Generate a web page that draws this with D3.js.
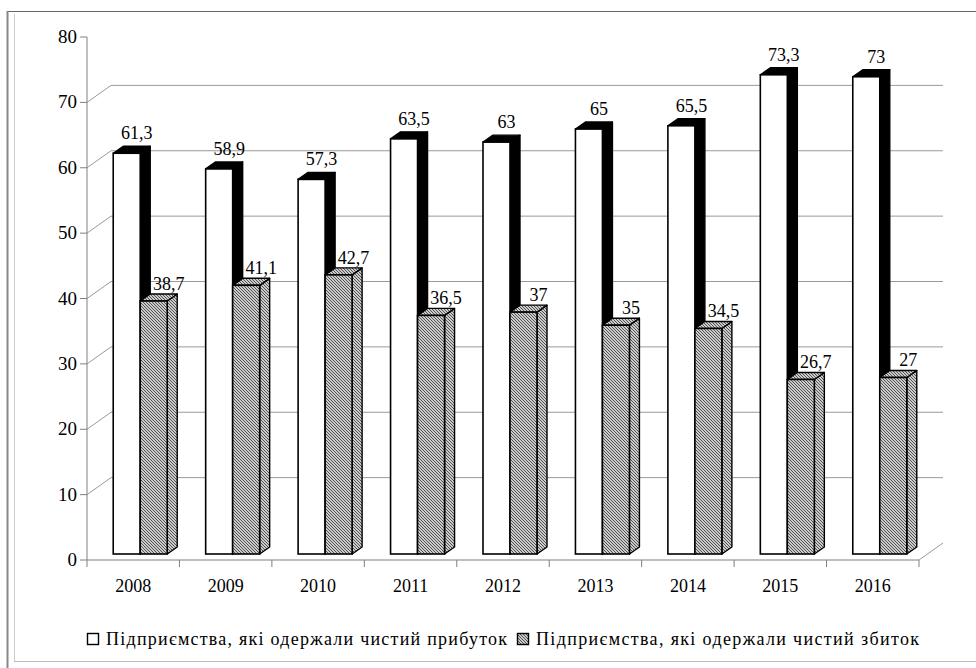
<!DOCTYPE html>
<html><head><meta charset="utf-8">
<script src="https://cdn.jsdelivr.net/npm/d3@7"></script>
<style>body{margin:0;background:#fff}svg{display:block}
svg text{font-family:"Liberation Serif","Times New Roman",serif;}</style>
</head><body><svg id="c" width="976" height="668"></svg>
<script>
const years = ["2008","2009","2010","2011","2012","2013","2014","2015","2016"];
const profit = [61.3,58.9,57.3,63.5,63,65,65.5,73.3,73];
const loss = [38.7,41.1,42.7,36.5,37,35,34.5,26.7,27];
const yTicks = [0,10,20,30,40,50,60,70,80];
const gridValues = [10,20,30,40,50,60,70];
const seriesNames = ["Підприємства, які одержали чистий прибуток","Підприємства, які одержали чистий збиток"];

const svg = d3.select("#c");
const FS = 18;
const x = d3.scaleBand().domain(years).range([87, 919]);
const y = d3.scaleLinear().domain([0, 80]).range([560, 37]);
const DX = 24, DY = -17;     // full depth of the 3D box
const OX = 7, OY = -6;       // front of bars inside depth
const BX = 10, BY = -7;      // bar depth
const BW = 27;               // bar front width

// defs: hatch
const defs = svg.append("defs");
const pat = defs.append("pattern").attr("id","hatch").attr("patternUnits","userSpaceOnUse")
  .attr("width",3).attr("height",3);
pat.append("rect").attr("width",3).attr("height",3).attr("fill","#cbcbcb");
pat.append("path").attr("d","M-1,-1L4,4M-1,2L1,4M2,-1L4,1").attr("stroke","#444").attr("stroke-width",0.9);

// frame
svg.append("line").attr("x1",7).attr("y1",11.5).attr("x2",976).attr("y2",11.5).attr("stroke","#666").attr("stroke-width",1.2);
svg.append("line").attr("x1",7.5).attr("y1",11).attr("x2",7.5).attr("y2",668).attr("stroke","#888").attr("stroke-width",2);
svg.append("line").attr("x1",14.5).attr("y1",14).attr("x2",14.5).attr("y2",661).attr("stroke","#ccc");
svg.append("line").attr("x1",14).attr("y1",661.5).attr("x2",976).attr("y2",661.5).attr("stroke","#bbb");

const x0 = x.range()[0], x1 = x.range()[1];
// back gridlines
const g = svg.append("g").attr("stroke","#9a9a9a").attr("stroke-width",1).attr("fill","none");
gridValues.forEach(v => {
  g.append("path").attr("d", `M${x0},${y(v)}L${x0+DX},${y(v)+DY}L${x1+DX},${y(v)+DY}`);
});
g.append("path").attr("d", `M${x1},${y(0)}L${x1+DX},${y(0)+DY}`);

// y axis
const ya = svg.append("g").attr("stroke","#808080");
ya.append("line").attr("x1",x0).attr("x2",x0).attr("y1",y(0)).attr("y2",y(80));
yTicks.forEach(v => {
  ya.append("line").attr("x1",x0-7).attr("x2",x0).attr("y1",y(v)).attr("y2",y(v));
});
svg.append("g").selectAll("text").data(yTicks).join("text")
  .attr("x", x0-10).attr("y", d => y(d)+6).attr("text-anchor","end")
  .attr("font-size",19).text(d => d);

// x axis
const xa = svg.append("g").attr("stroke","#808080");
xa.append("line").attr("x1",x0).attr("x2",x1).attr("y1",y(0)).attr("y2",y(0));
[...years.map(d => x(d)), x1].forEach(px => {
  xa.append("line").attr("x1",px).attr("x2",px).attr("y1",y(0)).attr("y2",y(0)+7);
});
svg.append("g").selectAll("text").data(years).join("text")
  .attr("x", d => x(d)+x.bandwidth()/2).attr("y", y(0)+32).attr("text-anchor","middle")
  .attr("font-size",FS).text(d => d);

const fmt = v => String(v).replace(".", ",");
const yb = v => y(v) + OY;

// labels (drawn first; bars may hide parts)
const lab = svg.append("g").attr("font-size",FS).attr("text-anchor","middle");
years.forEach((yr, i) => {
  const c = x(yr) + x.bandwidth()/2;
  const wl = c - 20;  // white front left
  lab.append("text").attr("x", wl + BW/2 + 10).attr("y", yb(profit[i]) - 14).text(fmt(profit[i]));
  lab.append("text").attr("x", wl + BW + BW/2 + 15).attr("y", yb(loss[i]) - 11).text(fmt(loss[i]));
});

function bar(gp, left, v, front, top, side) {
  const t = yb(v), b = yb(0), r = left + BW;
  gp.append("path").attr("d", `M${r},${b}L${r+BX},${b+BY}L${r+BX},${t+BY}L${r},${t}Z`)
    .attr("fill", side).attr("stroke","#000").attr("stroke-width",1.4).attr("stroke-linejoin","round");
  gp.append("path").attr("d", `M${left},${t}L${left+BX},${t+BY}L${r+BX},${t+BY}L${r},${t}Z`)
    .attr("fill", top).attr("stroke","#000").attr("stroke-width",1.4).attr("stroke-linejoin","round");
  gp.append("rect").attr("x", left).attr("y", t).attr("width", BW).attr("height", b - t)
    .attr("fill", front).attr("stroke","#000").attr("stroke-width",1.6);
}
const bars = svg.append("g");
years.forEach((yr, i) => {
  const c = x(yr) + x.bandwidth()/2;
  const wl = c - 20;
  bar(bars, wl, profit[i], "#fff", "#000", "#000");
  bar(bars, wl + BW, loss[i], "url(#hatch)", "url(#hatch)", "url(#hatch)");
});

// legend
const lg = svg.append("g").attr("font-size",FS);
const legX = [87, 517];
const legFill = ["#fff","url(#hatch)"];
const legW = [401, 383];
seriesNames.forEach((n, i) => {
  lg.append("rect").attr("x", legX[i]+0.5).attr("y", 633.5).attr("width", 11).attr("height", 11)
    .attr("fill", legFill[i]).attr("stroke","#000").attr("stroke-width",1.4);
  lg.append("text").attr("x", legX[i]+19).attr("y", 645).attr("textLength", legW[i])
    .attr("lengthAdjust","spacing").text(n);
});
</script></body></html>
